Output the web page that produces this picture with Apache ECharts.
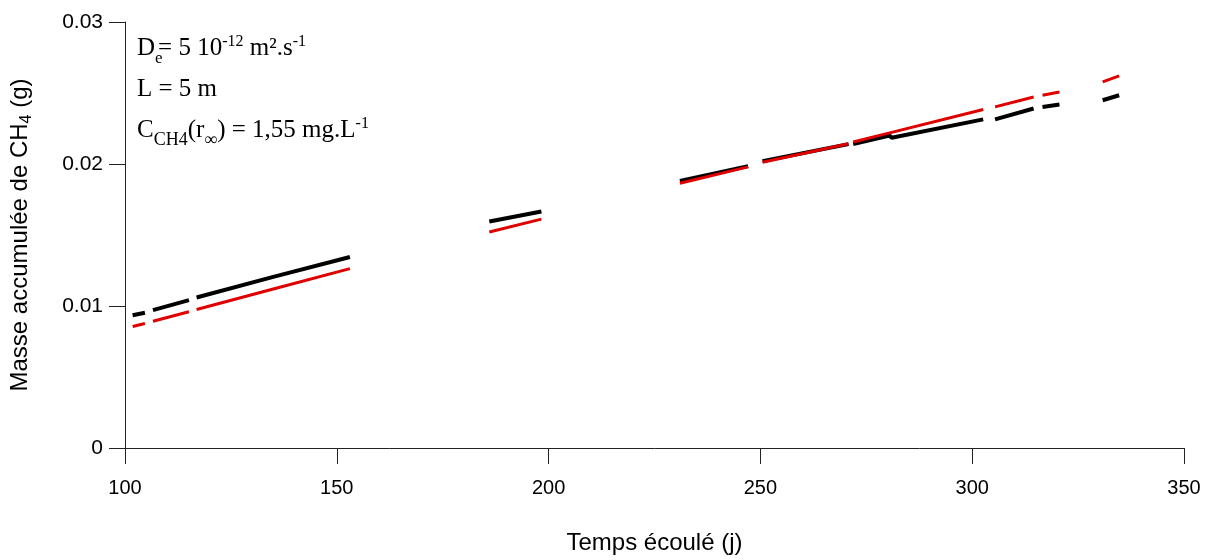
<!DOCTYPE html>
<html>
<head>
<meta charset="utf-8">
<script src="https://cdn.jsdelivr.net/npm/echarts@6/dist/echarts.min.js"></script>
<style>
html,body{margin:0;padding:0;background:#fff;}
#chart{width:1215px;height:560px;}
</style>
</head>
<body>
<div id="chart"></div>
<script>
// Time (days); null marks a gap in the record
const days = [101.8, 104.7, null, 106.6, 115.1, null, 116.9, 135.0, 153.1, null,
  186.0, 198.3, null, 231.0, 247.1, null, 250.5, 270.8, null,
  271.9, 280.5, 281.0, 302.6, null, 305.4, 314.5, null, 316.6, 320.6, null, 330.8, 334.7];
// Measured accumulated CH4 mass (g)
const observed = [0.00935, 0.00952, null, 0.00971, 0.01041, null, 0.01060, 0.01205, 0.01345, null,
  0.01595, 0.01665, null, 0.01880, 0.01985, null, 0.02020, 0.02140, null,
  0.02140, 0.02200, 0.02185, 0.02314, null, 0.02314, 0.02391, null, 0.02402, 0.02419, null, 0.02449, 0.02484];
// Modelled accumulated CH4 mass (g)
const modeled = [0.00856, 0.00877, null, 0.00893, 0.00959, null, 0.00975, 0.01120, 0.01263, null,
  0.01521, 0.01612, null, 0.01865, 0.01980, null, 0.02012, 0.02142, null,
  0.02155, 0.02219, 0.02223, 0.02384, null, 0.02402, 0.02472, null, 0.02484, 0.02507, null, 0.02578, 0.02620];

const xTicks = [100, 150, 200, 250, 300, 350];
const yTicks = [0, 0.01, 0.02, 0.03];

function pairs(ys) {
  return days.map((d, i) => d === null ? ['-', '-'] : [d, ys[i]]);
}

const chart = echarts.init(document.getElementById('chart'), null, {renderer: 'canvas'});
const sans = 'Liberation Sans';
const serif = 'Liberation Serif';
const axisCol = '#222';
chart.setOption({
  animation: false,
  backgroundColor: '#fff',
  grid: {left: 125, right: 31, top: 22, bottom: 111, containLabel: false},
  xAxis: {
    type: 'value', min: xTicks[0], max: xTicks[xTicks.length - 1], interval: 50,
    name: 'Temps écoulé (j)', nameLocation: 'middle', nameGap: 83,
    nameTextStyle: {fontFamily: sans, fontSize: 24, color: '#000'},
    axisLine: {show: true, onZero: false, lineStyle: {color: axisCol, width: 1}},
    axisTick: {show: true, inside: false, length: 16, lineStyle: {color: axisCol, width: 1}},
    axisLabel: {fontFamily: sans, fontSize: 20, color: '#000', margin: 30},
    splitLine: {show: false}
  },
  yAxis: {
    type: 'value', min: yTicks[0], max: yTicks[yTicks.length - 1], interval: 0.01,
    name: 'Masse accumulée de CH{sub|4} (g)', nameLocation: 'middle', nameGap: 90, nameRotate: 90,
    nameTextStyle: {fontFamily: sans, fontSize: 24, color: '#000',
      rich: {sub: {fontFamily: sans, fontSize: 16, color: '#000', padding: [14, 0, 0, 0]}}},
    axisLine: {show: true, lineStyle: {color: axisCol, width: 1}},
    axisTick: {show: true, inside: false, length: 16, lineStyle: {color: axisCol, width: 1}},
    axisLabel: {fontFamily: sans, fontSize: 21, color: '#000', margin: 22,
      formatter: v => (v === 0 ? '0' : v.toFixed(2))},
    splitLine: {show: false}
  },
  series: [
    {name: 'modèle', type: 'line', data: pairs(modeled), showSymbol: false, connectNulls: false,
     lineStyle: {color: '#e00000', width: 3}, z: 3},
    {name: 'mesures', type: 'line', data: pairs(observed), showSymbol: false, connectNulls: false,
     lineStyle: {color: '#000', width: 4}, z: 2}
  ],
  graphic: [{
    type: 'text', left: 137, top: 28,
    style: {
      text: 'D{se|e}= 5 10{sup|-12} m².s{sup|-1}\nL = 5 m\nC{sub|CH4}(r{sub|∞}) = 1,55 mg.L{sup|-1}',
      fontFamily: serif, fontSize: 25, fill: '#000', lineHeight: 41,
      rich: {
        se: {fontFamily: serif, fontSize: 17, fill: '#000', width: 3, padding: [20, 0, 0, 0]},
        sub: {fontFamily: serif, fontSize: 18, fill: '#000', padding: [20, 0, 0, 0]},
        sup: {fontFamily: serif, fontSize: 16, fill: '#000', padding: [0, 0, 14, 0]}
      }
    }
  }]
});
</script>
</body>
</html>
